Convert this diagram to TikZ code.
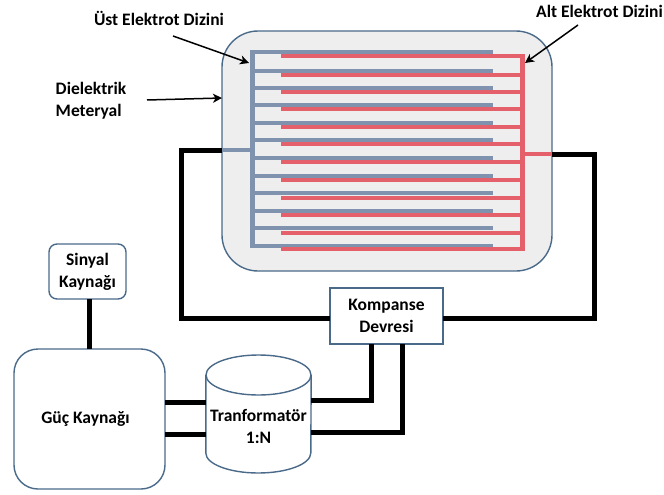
\documentclass[tikz,border=0pt]{standalone}
\usepackage{fontspec}
\setmainfont{Carlito}
\usetikzlibrary{arrows.meta}
\definecolor{kenar}{HTML}{4A6A8A}
\definecolor{dolgu}{HTML}{EEEEEE}
\definecolor{mavi}{HTML}{7F93AE}
\definecolor{kirmizi}{HTML}{E4606A}
\tikzset{
	kutu/.style={draw=kenar,line width=1.4pt,fill=white,align=center,inner sep=0pt,outer sep=0pt,font=\bfseries\fontsize{17.5}{22}\selectfont},
	yazi/.style={align=center,inner sep=0pt,font=\bfseries\fontsize{17.5}{22}\selectfont},
	hat/.style={line width=5pt,black},
	mavidis/.style={line width=4.5pt,mavi},
	kirmizidis/.style={line width=4.5pt,kirmizi},
	ok/.style={-{Stealth[inset=2.5pt,length=9pt,width=9pt]},line width=1.5pt,black},
}
\begin{document}
\begin{tikzpicture}[x=1pt,y=-1pt]
	\useasboundingbox (0,0) rectangle (664,495);
	% Dielektrik levha
	\node[kutu,fill=dolgu,rounded corners=36pt,minimum width=330pt,minimum height=240pt] (levha) at (387,151) {};
%
	% Elektrot uclari
	\coordinate (ustuc) at (252,150);
	\coordinate (altuc) at (522,154);
	\coordinate (solkose) at (181,318);
	\coordinate (sagkose) at (594,318);
	\coordinate (ustbas) at (173,36);
	\coordinate (ustok) at (249,63);
	\coordinate (altbas) at (578,25);
	\coordinate (altok) at (525,63);
	\coordinate (dielbas) at (147,100);
	\coordinate (dielok) at (222,98);
	% Ust elektrot dizini
	\foreach \y in {52,71,88,105,123,140,158,176,193,211,228,246}{
		\draw[mavidis] (250,\y) -- (493,\y);
	};
	\draw[mavidis,line width=5pt] (252,50) -- (252,248);
	\draw[mavidis] (levha.west |- ustuc) -- (ustuc);
	% Alt elektrot dizini
	\foreach \y in {56,75,92,109,127,144,162,180,198,215,233,249}{
		\draw[kirmizidis] (281,\y) -- (524,\y);
	};
	\draw[kirmizidis,line width=5pt] (522,54) -- (522,251);
	\draw[kirmizidis] (altuc) -- (levha.east |- altuc);
%
	% Kutular
	\node[kutu,minimum width=113pt,minimum height=56pt] (kompanse) at (386.5,316) {Kompanse\\Devresi};
	\node[kutu,rounded corners=8pt,minimum width=77pt,minimum height=55pt] (sinyal) at (87.5,271.5) {Sinyal\\Kayna\u{g}\i};
	\node[kutu,rounded corners=24pt,minimum width=151pt,minimum height=140pt] (guc) at (89.5,419) {\hspace*{-8pt}G\"u\c{c} Kayna\u{g}\i};
	% Transformator
	\node[yazi,minimum width=105pt,minimum height=118pt] (trafo) at (258.5,414) {};
	\draw[draw=kenar,line width=1.4pt,fill=white] (trafo.west |- 0,375) -- (trafo.west |- 0,453) arc[start angle=180,end angle=360,x radius=52.5pt,y radius=20pt] -- (trafo.east |- 0,375);
	\draw[draw=kenar,line width=1.4pt,fill=white] (258.5,375) ellipse[x radius=52.5pt,y radius=20pt];
	\node[yazi] (trafoyazi) at (258.5,426) {Tranformat\"or\\1:N};
%
	% Baglantilar
	\draw[hat] (levha.west |- ustuc) -| (solkose) -- (kompanse.west |- solkose);
	\draw[hat] (levha.east |- altuc) -| (sagkose) -- (kompanse.east |- sagkose);
	\draw[hat] (sinyal.south -| 89,0) -- (guc.north -| 89,0);
	\draw[hat] (guc.east |- 0,402) -- (trafo.west |- 0,402);
	\draw[hat] (guc.east |- 0,434) -- (trafo.west |- 0,434);
	\draw[hat] (kompanse.south -| 371,0) |- (trafo.east |- 0,400);
	\draw[hat] (kompanse.south -| 402,0) |- (trafo.east |- 0,432);
%
	% Etiketler
	\node[yazi] (ustyazi) at (159,18) {\"Ust Elektrot Dizini};
	\node[yazi] (altyazi) at (599.5,11) {Alt Elektrot Dizini};
	\node[yazi,align=left] (dielyazi) at (91,101) {Dielektrik\\Meteryal};
	\draw[ok] (ustbas) -- (ustok);
	\draw[ok] (altbas) -- (altok);
	\draw[ok] (dielbas) -- (dielok);
\end{tikzpicture}
\end{document}
